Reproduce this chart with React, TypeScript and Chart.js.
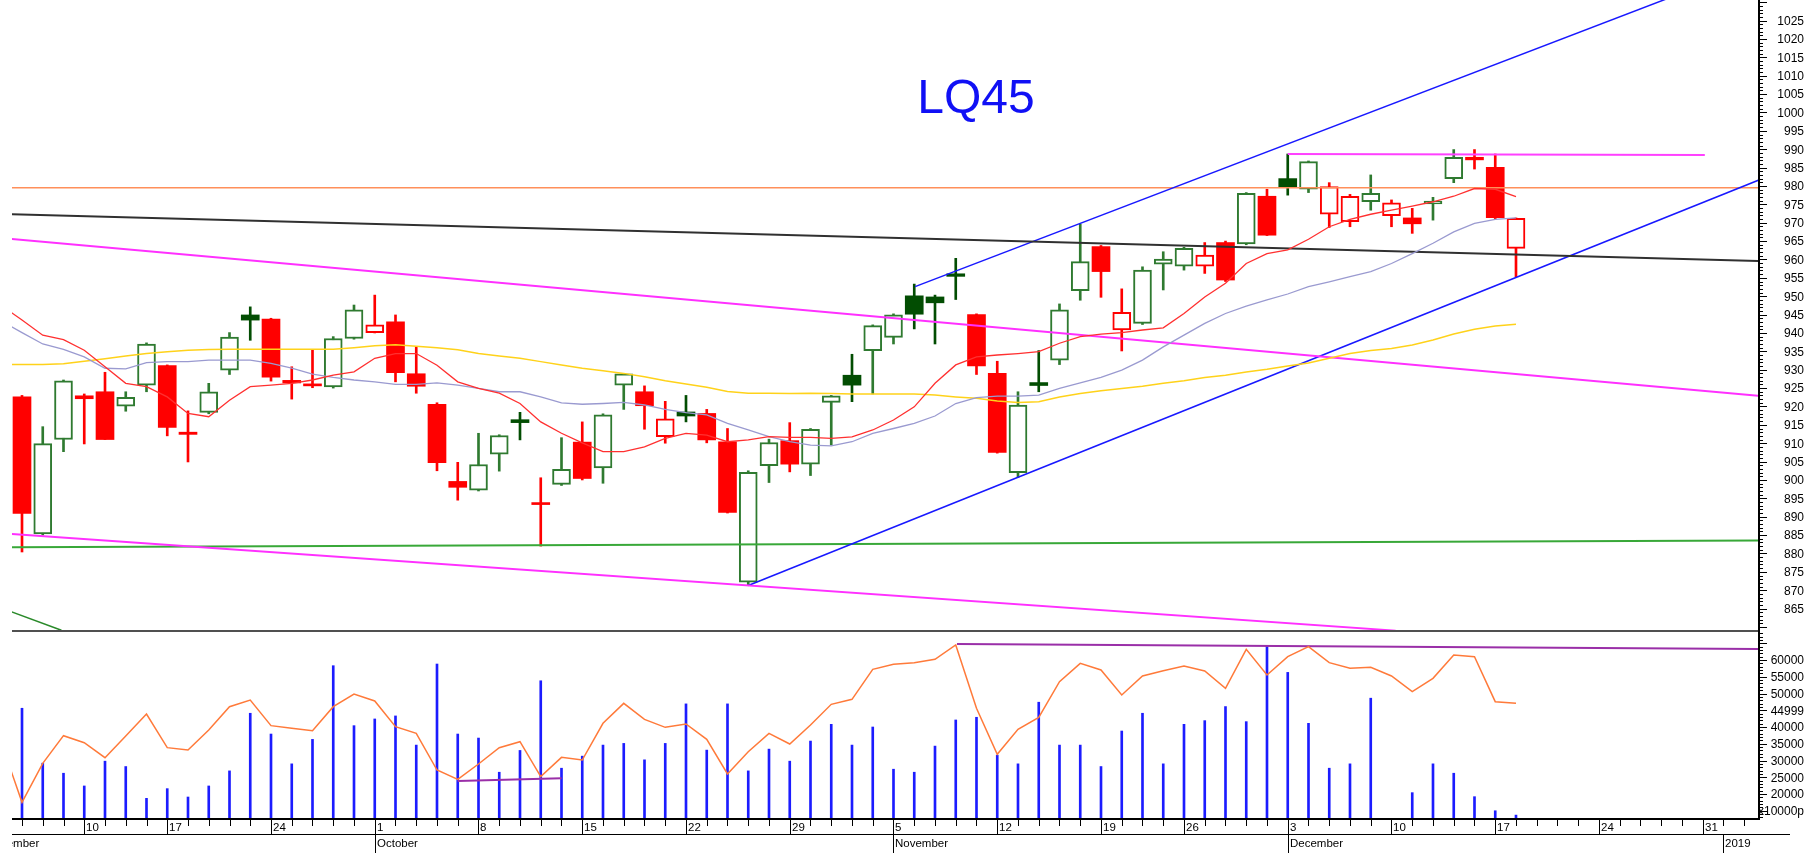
import React, { useEffect, useRef } from 'react';
import { Chart, registerables } from 'chart.js';

Chart.register(...registerables);

// ---------------- data ----------------
const opens = [922.6, 885.3, 911.0, 922.9, 924.0, 920.1, 925.8, 931.1, 913.0, 918.4,
  929.9, 944.9, 943.8, 927.1, 926.1, 925.3, 938.5, 940.1, 943.0, 928.9,
  920.6, 899.6, 897.2, 907.0, 916.4, 893.6, 898.8, 910.3, 903.3, 925.8,
  924.0, 911.8, 918.5, 918.1, 910.4, 872.2, 903.9, 910.7, 904.3, 921.1,
  928.5, 935.2, 938.8, 950.1, 949.8, 956.1, 945.0, 929.0, 902.0, 926.5,
  932.6, 951.5, 963.5, 940.8, 942.6, 958.7, 958.2, 958.2, 964.6, 964.2,
  977.2, 982.0, 979.1, 972.3, 970.3, 975.7, 971.9, 971.3, 975.1, 982.0,
  987.8, 985.1, 963.0];
const highs = [923.0, 914.5, 927.2, 923.4, 929.3, 924.0, 937.3, 931.3, 918.8, 926.3,
  940.1, 947.1, 944.0, 930.8, 935.5, 939.0, 947.6, 950.3, 944.9, 936.2,
  921.0, 904.8, 912.7, 912.3, 918.4, 900.6, 911.5, 915.8, 918.0, 929.0,
  925.6, 921.4, 923.0, 919.2, 914.0, 902.5, 911.1, 915.6, 914.0, 923.0,
  934.2, 942.2, 945.2, 953.3, 950.3, 960.3, 945.2, 932.3, 924.0, 935.2,
  947.9, 969.6, 963.8, 952.0, 958.0, 962.1, 963.3, 964.6, 965.0, 978.2,
  979.1, 988.7, 986.8, 980.9, 977.7, 983.0, 976.2, 973.9, 976.9, 989.9,
  989.9, 988.7, 971.3];
const lows = [880.4, 885.0, 907.7, 909.8, 911.0, 918.7, 924.0, 912.0, 904.9, 918.0,
  928.7, 938.0, 926.9, 922.0, 925.1, 925.0, 938.3, 940.0, 926.7, 923.6,
  902.5, 894.5, 897.0, 902.4, 910.9, 882.0, 898.5, 900.0, 899.1, 919.2,
  913.8, 910.0, 915.8, 910.1, 891.0, 871.3, 899.3, 902.2, 901.2, 909.5,
  921.3, 923.4, 937.0, 941.1, 937.0, 949.1, 928.7, 907.3, 900.7, 924.0,
  931.4, 948.9, 949.7, 935.1, 942.3, 951.7, 957.1, 956.2, 954.0, 964.0,
  966.5, 977.5, 978.2, 968.7, 968.9, 973.4, 968.9, 967.1, 970.7, 980.9,
  984.6, 971.0, 955.3];
const closes = [890.9, 909.9, 927.0, 922.1, 911.0, 922.5, 937.0, 914.3, 912.4, 924.0,
  938.9, 943.5, 928.0, 926.4, 925.6, 938.5, 946.3, 942.2, 929.2, 925.5,
  904.7, 898.0, 904.2, 912.1, 915.6, 893.3, 902.9, 900.4, 917.7, 928.9,
  920.2, 916.6, 917.4, 910.9, 891.2, 902.1, 910.2, 904.3, 913.8, 922.9,
  925.8, 942.0, 944.9, 945.1, 948.2, 955.4, 931.0, 907.5, 920.4, 925.7,
  946.3, 959.4, 956.7, 945.6, 957.1, 960.1, 963.0, 961.2, 954.4, 978.0,
  966.6, 979.8, 986.6, 979.8, 977.2, 978.0, 975.4, 969.7, 975.9, 987.8,
  987.1, 971.4, 971.2];
const volumes = [45600, 29200, 26200, 22400, 29800, 28200, 18700, 21600, 19100, 22400,
  26900, 44100, 37900, 29000, 36300, 58300, 40400, 42400, 43300, 34600,
  58800, 37900, 36700, 26500, 33000, 53800, 27700, 31300, 34600, 35100,
  30200, 35100, 46900, 33100, 46900, 26900, 33400, 29800, 35800, 40800,
  34600, 40000, 27400, 26500, 34300, 42100, 42900, 31600, 29000, 47400,
  34600, 34600, 28200, 38800, 44100, 29000, 40800, 41900, 46100, 41600,
  64200, 56300, 41100, 27700, 29000, 48600, 12000, 20400, 29000, 26200,
  19200, 15000, 13700];

// moving averages, first value belongs to the trading day before the first candle
const MA_START = -1;
const maFast = [947.5, 943.5, 939.4, 938.2, 935.3, 930.8, 926.3, 925.4, 922.6, 918.1, 917.2,
  921.7, 925.4, 925.8, 926.3, 927.2, 928.5, 929.4, 933.1, 934.4, 934.4,
  931.2, 926.7, 924.9, 923.6, 920.8, 915.8, 912.7, 910.1, 907.7, 907.7,
  909.0, 911.3, 912.7, 912.2, 910.4, 910.9, 911.8, 911.6, 911.6, 911.3,
  911.7, 913.6, 916.3, 919.9, 926.3, 931.3, 933.5, 934.0, 934.4, 934.9,
  937.2, 939.0, 939.7, 940.1, 940.8, 941.4, 945.3, 949.8, 953.5, 958.9,
  961.6, 962.6, 965.5, 968.9, 970.9, 972.3, 973.4, 974.5, 975.7, 977.2,
  979.3, 979.1, 977.1];
const maMid = [943.3, 940.1, 937.0, 935.5, 933.5, 930.4, 930.2, 931.9, 932.2, 932.2, 932.6,
  932.6, 932.6, 931.7, 930.4, 928.8, 927.9, 927.2, 926.7, 926.0, 926.0,
  926.4, 925.8, 924.9, 924.0, 924.0, 922.6, 921.0, 920.6, 920.8, 921.1,
  920.4, 919.2, 918.3, 917.7, 915.4, 913.6, 911.8, 910.4, 909.5, 909.3,
  910.4, 912.7, 914.0, 915.4, 917.4, 920.8, 922.4, 922.8, 922.8, 923.1,
  924.9, 926.4, 927.9, 929.9, 932.6, 936.2, 939.4, 942.6, 945.3, 947.3,
  949.0, 950.6, 952.6, 953.9, 955.3, 956.7, 958.9, 961.6, 964.4, 967.5,
  969.8, 970.9, 971.3];
const maSlow = [931.4, 931.4, 931.4, 931.6, 932.3, 933.0, 933.7, 934.4, 934.9, 935.3, 935.5,
  935.6, 935.6, 935.6, 935.6, 935.6, 935.6, 936.0, 936.5, 936.8, 936.4,
  936.0, 935.4, 934.4, 933.7, 933.1, 932.2, 931.3, 930.4, 929.7, 929.0,
  928.1, 927.0, 926.1, 925.2, 924.1, 923.6, 923.6, 923.5, 923.6, 923.5,
  923.4, 923.4, 923.4, 923.4, 923.1, 922.6, 922.2, 921.5, 921.1, 921.3,
  922.6, 923.5, 924.3, 924.9, 925.5, 926.3, 927.0, 927.9, 928.5, 929.4,
  930.1, 931.0, 931.8, 933.1, 934.4, 935.2, 935.8, 936.7, 938.1, 939.7,
  941.0, 941.9, 942.4];
const volMa = [35400, 17513, 29155, 37413, 35324, 30846, 37314, 43881, 33832, 33135, 39105,
  46070, 48060, 40399, 39602, 38906, 46070, 49851, 47762, 40100, 38110,
  27165, 24379, 28956, 33832, 35623, 25175, 30946, 30150, 41095, 47060,
  42289, 39901, 40896, 36319, 25971, 32638, 38110, 34926, 40598, 46767,
  48259, 57214, 58707, 59204, 60199, 64478, 45573, 31842, 39304, 42886,
  53533, 59005, 57015, 49552, 55224, 56816, 58209, 56717, 51543, 63184,
  55523, 60995, 63980, 59204, 57513, 57811, 55224, 50548, 54528, 61493,
  60995, 47563, 47065];

// trend lines [dayIndex, value]
const blackTrend = [[-0.5, 972.3], [83.7, 959.6]];
const magentaUpper = [[-0.5, 965.6], [83.7, 922.9]];
const magentaLower = [[-0.5, 885.3], [66.2, 859.0]];
const blueLower = [[35, 871.3], [83.7, 981.6]];
const blueUpper = [[43.04, 952.6], [79.3, 1031]];
const greenSupport = [[-0.5, 881.7], [83.7, 883.5]];
const orangeLevel = [[-0.5, 979.5], [83.7, 979.5]];
const magentaTop = [[61, 988.7], [81.1, 988.4]];
const greenShort = [[-0.5, 864.1], [1.9, 859.1]];
const volPurpleHigh = [[45.06, 64800], [83.7, 63250]];
const volPurpleLow = [[21, 23900], [26, 24700]];

// axes
const priceTickValues = [865, 870, 875, 880, 885, 890, 895, 900, 905, 910, 915, 920, 925, 930,
  935, 940, 945, 950, 955, 960, 965, 970, 975, 980, 985, 990, 995, 1000, 1005, 1010, 1015, 1020, 1025];
const volTickValues = [60000, 55000, 50000, 45000, 40000, 35000, 30000, 25000, 20000, 15000];
const volTickLabels = ['60000', '55000', '50000', '44999', '40000', '35000', '30000', '25000', '20000', 'x10000p'];
const weekTickIndex = [3, 7, 12, 17, 22, 27, 32, 37, 42, 47, 52, 56, 61, 66, 71, 76, 81];
const weekTickLabels = ['10', '17', '24', '1', '8', '15', '22', '29', '5', '12', '19', '26', '3', '10', '17', '24', '31'];
const monthStartIndex = [-2, 17, 42, 61, 82];
const monthLabels = ['September', 'October', 'November', 'December', '2019'];
const LAST_TICK = 83;

// ---------------- layout / style ----------------
const W = 1808;
const X_MIN = -0.482;
const X_MAX = 83.663;
const PRICE_MIN = 858.9;
const PRICE_MAX = 1030.6;
const VOL_MIN = 12836;
const VOL_MAX = 68657;
const A_H = 631;
const B_TOP = 629;
const B_H = 853 - B_TOP;
const FONT = '"Liberation Sans", Arial, Helvetica, sans-serif';
const RED = '#ff0000';
const GREEN = '#2f7a30';
const DARK_GREEN = '#024d02';

function isUp(i: number) {
  const prev = i > 0 ? closes[i - 1] : opens[i];
  return closes[i] >= prev;
}
function isFilled(i: number) {
  return closes[i] < opens[i];
}
function candleColor(i: number) {
  if (!isUp(i)) return RED;
  return isFilled(i) ? DARK_GREEN : GREEN;
}

const seg = (pts: number[][], color: string, width: number) => ({
  type: 'line' as const,
  data: pts.map(([x, y]) => ({ x, y })),
  borderColor: color,
  borderWidth: width,
  pointRadius: 0,
  tension: 0,
  fill: false,
  order: 0,
});
const maLine = (vals: number[], start: number, color: string, width: number) => ({
  type: 'line' as const,
  data: vals.map((y, k) => ({ x: k + start, y })),
  borderColor: color,
  borderWidth: width,
  pointRadius: 0,
  tension: 0,
  fill: false,
  order: 0,
});

const priceDecor = {
  id: 'priceDecor',
  afterDraw(chart: any) {
    const { ctx, chartArea: a, scales } = chart;
    const y = scales.y;
    ctx.save();
    ctx.fillStyle = '#000';
    ctx.fillRect(a.right, 0, 2, A_H);
    for (let v = Math.ceil(PRICE_MIN); v <= PRICE_MAX; v++) {
      const py = Math.round(y.getPixelForValue(v));
      ctx.fillRect(a.right + 2, py, v % 5 === 0 ? 7 : 3, 1);
    }
    ctx.font = '12px ' + FONT;
    ctx.textAlign = 'right';
    ctx.textBaseline = 'middle';
    priceTickValues.forEach((v) => ctx.fillText(String(v), 1804, y.getPixelForValue(v) + 1));
    ctx.font = '48px ' + FONT;
    ctx.fillStyle = '#1010f5';
    ctx.textAlign = 'center';
    ctx.textBaseline = 'alphabetic';
    ctx.fillText('LQ45', 976, 113);
    ctx.restore();
  },
};

const volDecor = {
  id: 'volDecor',
  afterDraw(chart: any) {
    const { ctx, chartArea: a, scales } = chart;
    const x = scales.x;
    const y = scales.y;
    ctx.save();
    // pane separator
    ctx.fillStyle = '#505050';
    ctx.fillRect(a.left, 1, a.right - a.left, 2);
    // right axis
    ctx.fillStyle = '#000';
    ctx.fillRect(a.right, 0, 2, a.bottom + 2);
    for (let v = Math.ceil(VOL_MIN / 1000) * 1000; v <= VOL_MAX; v += 1000) {
      const py = Math.round(y.getPixelForValue(v));
      ctx.fillRect(a.right + 2, py, v % 5000 === 0 ? 7 : 3, 1);
    }
    ctx.font = '12px ' + FONT;
    ctx.textAlign = 'right';
    ctx.textBaseline = 'middle';
    volTickValues.forEach((v, k) => ctx.fillText(volTickLabels[k], 1804, y.getPixelForValue(v) + 1));
    // x axis
    ctx.fillRect(a.left, a.bottom, a.right - a.left + 2, 2);
    for (let i = 0; i <= LAST_TICK; i++) {
      const px = Math.round(x.getPixelForValue(i));
      ctx.fillRect(px, a.bottom + 2, 1, 6);
    }
    ctx.font = '11.5px ' + FONT;
    ctx.textAlign = 'left';
    weekTickIndex.forEach((i, k) => {
      const px = Math.round(x.getPixelForValue(i));
      ctx.fillRect(px, a.bottom + 2, 1, 15);
      ctx.fillText(weekTickLabels[k], px + 2, a.bottom + 10);
    });
    // month row
    const rowY = a.bottom + 16;
    ctx.fillRect(a.left, rowY, 1790 - a.left, 1);
    ctx.beginPath();
    ctx.rect(a.left, rowY, 1800 - a.left, 40);
    ctx.clip();
    monthStartIndex.forEach((i, k) => {
      const px = Math.round(x.getPixelForValue(i));
      ctx.fillRect(px, rowY, 1, 20);
      ctx.fillText(monthLabels[k], px + 2, rowY + 10);
    });
    ctx.restore();
  },
};

export default function App() {
  const refA = useRef<HTMLCanvasElement>(null);
  const refB = useRef<HTMLCanvasElement>(null);

  useEffect(() => {
    const idx = closes.map((_, i) => i);
    const chartA = new Chart(refA.current!, {
      type: 'bar',
      data: {
        datasets: [
          maLine(maFast, MA_START, '#ff3030', 1.3),
          maLine(maMid, MA_START, '#9a9ad0', 1.3),
          maLine(maSlow, MA_START, '#ffd21a', 1.5),
          seg(blackTrend, '#303030', 2),
          seg(magentaUpper, '#ff30ff', 2),
          seg(magentaLower, '#ff30ff', 2),
          seg(blueLower, '#1818ff', 1.5),
          seg(blueUpper, '#1818ff', 1.5),
          seg(greenSupport, '#38a838', 2),
          seg(orangeLevel, '#ff8f5a', 1.5),
          seg(magentaTop, '#ff40ff', 2),
          seg(greenShort, '#2a8a2a', 1.5),
          {
            type: 'bar' as const,
            data: idx.map((i) => ({ x: i, y: [opens[i], closes[i]] })) as any,
            barThickness: 18,
            grouped: false,
            minBarLength: 2,
            borderSkipped: false,
            backgroundColor: (c: any) => (isFilled(c.dataIndex) ? candleColor(c.dataIndex) : '#ffffff'),
            borderColor: (c: any) => candleColor(c.dataIndex),
            borderWidth: (c: any) => (isFilled(c.dataIndex) ? 0 : 2),
            order: 1,
          },
          {
            type: 'bar' as const,
            data: idx.map((i) => ({ x: i, y: [lows[i], highs[i]] })) as any,
            barThickness: 2,
            grouped: false,
            borderWidth: 0,
            backgroundColor: (c: any) => candleColor(c.dataIndex),
            order: 2,
          },
        ] as any,
      },
      options: {
        animation: false,
        responsive: false,
        maintainAspectRatio: false,
        devicePixelRatio: 1,
        events: [],
        layout: { padding: { left: 12, right: 50, top: 0, bottom: 0 } },
        plugins: { legend: { display: false }, tooltip: { enabled: false } },
        scales: {
          x: { type: 'linear', min: X_MIN, max: X_MAX, display: false, offset: false },
          y: { type: 'linear', min: PRICE_MIN, max: PRICE_MAX, display: false, beginAtZero: false },
        },
      } as any,
      plugins: [priceDecor],
    });

    const chartB = new Chart(refB.current!, {
      type: 'bar',
      data: {
        datasets: [
          maLine(volMa, MA_START, '#ff7a3a', 1.5),
          seg(volPurpleHigh, '#9a2fa8', 2),
          seg(volPurpleLow, '#9a2fa8', 2),
          {
            type: 'bar' as const,
            data: idx.map((i) => ({ x: i, y: volumes[i] })) as any,
            barThickness: 2,
            grouped: false,
            borderWidth: 0,
            backgroundColor: '#1c1cff',
            order: 1,
          },
        ] as any,
      },
      options: {
        animation: false,
        responsive: false,
        maintainAspectRatio: false,
        devicePixelRatio: 1,
        events: [],
        layout: { padding: { left: 12, right: 50, top: 2, bottom: 35 } },
        plugins: { legend: { display: false }, tooltip: { enabled: false } },
        scales: {
          x: { type: 'linear', min: X_MIN, max: X_MAX, display: false, offset: false },
          y: { type: 'linear', min: VOL_MIN, max: VOL_MAX, display: false, beginAtZero: false },
        },
      } as any,
      plugins: [volDecor],
    });

    return () => {
      chartA.destroy();
      chartB.destroy();
    };
  }, []);

  return (
    <div style={{ position: 'fixed', left: 0, top: 0, width: W, height: 853, background: '#ffffff', overflow: 'hidden' }}>
      <canvas ref={refA} width={W} height={A_H} style={{ position: 'absolute', left: 0, top: 0, width: W, height: A_H }} />
      <canvas ref={refB} width={W} height={B_H} style={{ position: 'absolute', left: 0, top: B_TOP, width: W, height: B_H }} />
    </div>
  );
}
